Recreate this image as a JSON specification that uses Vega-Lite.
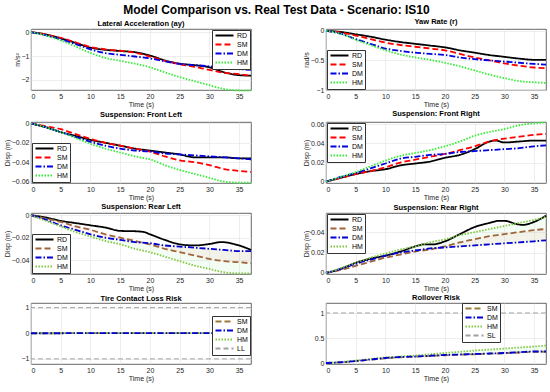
{
  "$schema": "https://vega.github.io/schema/vega-lite/v6.json",
  "padding": {"left": 2, "top": 3, "right": 4, "bottom": 1},
  "background": "white",
  "title": {"text": "Model Comparison vs. Real Test Data - Scenario: IS10", "fontSize": 12, "fontWeight": "bold", "font": "Liberation Sans", "anchor": "middle", "offset": 1, "color": "#000"},
  "columns": 2,
  "spacing": {"row": 1, "column": 46},
  "config": {
    "font": "Liberation Sans",
    "view": {"stroke": "#404040", "strokeWidth": 0.8},
    "axis": {"labelFontSize": 7, "titleFontSize": 7, "titleFontWeight": "normal", "labelColor": "#262626", "titleColor": "#262626", "grid": true, "gridColor": "#e3e3e3", "gridWidth": 0.6, "domain": false, "ticks": false, "labelPadding": 2, "titlePadding": 1, "labelFont": "Liberation Sans", "titleFont": "Liberation Sans"},
    "title": {"fontSize": 7.5, "fontWeight": "bold", "offset": 1, "color": "#000", "font": "Liberation Sans"},
    "legend": {"title": null, "symbolType": "M-1,0L8,0", "symbolSize": 16, "symbolStrokeWidth": 1.8, "labelFontSize": 7, "labelOffset": 16, "padding": 2, "rowPadding": 0, "strokeColor": "#333", "fillColor": "white", "offset": 1, "labelFont": "Liberation Sans", "labelColor": "#000"},
    "line": {"strokeWidth": 1.8}
  },
  "datasets": {
    "d": [
      {"p":1,"s":"RD","t":0,"v":0},{"p":1,"s":"RD","t":2.5,"v":-0.1},{"p":1,"s":"RD","t":5,"v":-0.26},{"p":1,"s":"RD","t":7.5,"v":-0.45},{"p":1,"s":"RD","t":10,"v":-0.65},{"p":1,"s":"RD","t":12.5,"v":-0.74},{"p":1,"s":"RD","t":15,"v":-0.79},{"p":1,"s":"RD","t":17.5,"v":-0.84},{"p":1,"s":"RD","t":20,"v":-0.98},{"p":1,"s":"RD","t":22.5,"v":-1.18},{"p":1,"s":"RD","t":25,"v":-1.32},{"p":1,"s":"RD","t":27.5,"v":-1.38},{"p":1,"s":"RD","t":30,"v":-1.47},{"p":1,"s":"RD","t":32.5,"v":-1.68},{"p":1,"s":"RD","t":35,"v":-1.8},{"p":1,"s":"RD","t":37,"v":-1.82},
      {"p":1,"s":"SM","t":0,"v":0},{"p":1,"s":"SM","t":2.5,"v":-0.1},{"p":1,"s":"SM","t":5,"v":-0.24},{"p":1,"s":"SM","t":7.5,"v":-0.43},{"p":1,"s":"SM","t":10,"v":-0.62},{"p":1,"s":"SM","t":12.5,"v":-0.72},{"p":1,"s":"SM","t":15,"v":-0.78},{"p":1,"s":"SM","t":17.5,"v":-0.86},{"p":1,"s":"SM","t":20,"v":-1.02},{"p":1,"s":"SM","t":22.5,"v":-1.2},{"p":1,"s":"SM","t":25,"v":-1.34},{"p":1,"s":"SM","t":27.5,"v":-1.45},{"p":1,"s":"SM","t":30,"v":-1.58},{"p":1,"s":"SM","t":32.5,"v":-1.7},{"p":1,"s":"SM","t":35,"v":-1.76},{"p":1,"s":"SM","t":37,"v":-1.82},
      {"p":1,"s":"DM","t":0,"v":0},{"p":1,"s":"DM","t":2.5,"v":-0.13},{"p":1,"s":"DM","t":5,"v":-0.3},{"p":1,"s":"DM","t":7.5,"v":-0.5},{"p":1,"s":"DM","t":10,"v":-0.72},{"p":1,"s":"DM","t":12.5,"v":-0.88},{"p":1,"s":"DM","t":15,"v":-0.95},{"p":1,"s":"DM","t":17.5,"v":-1.02},{"p":1,"s":"DM","t":20,"v":-1.1},{"p":1,"s":"DM","t":22.5,"v":-1.22},{"p":1,"s":"DM","t":25,"v":-1.33},{"p":1,"s":"DM","t":27.5,"v":-1.38},{"p":1,"s":"DM","t":30,"v":-1.43},{"p":1,"s":"DM","t":32.5,"v":-1.5},{"p":1,"s":"DM","t":35,"v":-1.55},{"p":1,"s":"DM","t":37,"v":-1.58},
      {"p":1,"s":"HM","t":0,"v":0},{"p":1,"s":"HM","t":2.5,"v":-0.14},{"p":1,"s":"HM","t":5,"v":-0.35},{"p":1,"s":"HM","t":7.5,"v":-0.6},{"p":1,"s":"HM","t":10,"v":-0.87},{"p":1,"s":"HM","t":12.5,"v":-1.08},{"p":1,"s":"HM","t":15,"v":-1.2},{"p":1,"s":"HM","t":17.5,"v":-1.32},{"p":1,"s":"HM","t":20,"v":-1.47},{"p":1,"s":"HM","t":22.5,"v":-1.68},{"p":1,"s":"HM","t":25,"v":-1.88},{"p":1,"s":"HM","t":27.5,"v":-2.05},{"p":1,"s":"HM","t":30,"v":-2.22},{"p":1,"s":"HM","t":32.5,"v":-2.38},{"p":1,"s":"HM","t":35,"v":-2.44},{"p":1,"s":"HM","t":37,"v":-2.45},

      {"p":2,"s":"RD","t":0,"v":0},{"p":2,"s":"RD","t":2.5,"v":-0.02},{"p":2,"s":"RD","t":5,"v":-0.06},{"p":2,"s":"RD","t":7.5,"v":-0.1},{"p":2,"s":"RD","t":10,"v":-0.15},{"p":2,"s":"RD","t":12.5,"v":-0.19},{"p":2,"s":"RD","t":15,"v":-0.22},{"p":2,"s":"RD","t":17.5,"v":-0.25},{"p":2,"s":"RD","t":20,"v":-0.28},{"p":2,"s":"RD","t":22.5,"v":-0.33},{"p":2,"s":"RD","t":25,"v":-0.37},{"p":2,"s":"RD","t":27.5,"v":-0.41},{"p":2,"s":"RD","t":30,"v":-0.44},{"p":2,"s":"RD","t":32.5,"v":-0.47},{"p":2,"s":"RD","t":35,"v":-0.49},{"p":2,"s":"RD","t":37,"v":-0.49},
      {"p":2,"s":"SM","t":0,"v":0},{"p":2,"s":"SM","t":2.5,"v":-0.03},{"p":2,"s":"SM","t":5,"v":-0.08},{"p":2,"s":"SM","t":7.5,"v":-0.14},{"p":2,"s":"SM","t":10,"v":-0.2},{"p":2,"s":"SM","t":12.5,"v":-0.24},{"p":2,"s":"SM","t":15,"v":-0.27},{"p":2,"s":"SM","t":17.5,"v":-0.3},{"p":2,"s":"SM","t":20,"v":-0.33},{"p":2,"s":"SM","t":22.5,"v":-0.39},{"p":2,"s":"SM","t":25,"v":-0.45},{"p":2,"s":"SM","t":27.5,"v":-0.5},{"p":2,"s":"SM","t":30,"v":-0.55},{"p":2,"s":"SM","t":32.5,"v":-0.59},{"p":2,"s":"SM","t":35,"v":-0.62},{"p":2,"s":"SM","t":37,"v":-0.63},
      {"p":2,"s":"DM","t":0,"v":0},{"p":2,"s":"DM","t":2.5,"v":-0.05},{"p":2,"s":"DM","t":5,"v":-0.14},{"p":2,"s":"DM","t":7.5,"v":-0.22},{"p":2,"s":"DM","t":10,"v":-0.3},{"p":2,"s":"DM","t":12.5,"v":-0.34},{"p":2,"s":"DM","t":15,"v":-0.37},{"p":2,"s":"DM","t":17.5,"v":-0.39},{"p":2,"s":"DM","t":20,"v":-0.41},{"p":2,"s":"DM","t":22.5,"v":-0.45},{"p":2,"s":"DM","t":25,"v":-0.48},{"p":2,"s":"DM","t":27.5,"v":-0.5},{"p":2,"s":"DM","t":30,"v":-0.52},{"p":2,"s":"DM","t":32.5,"v":-0.54},{"p":2,"s":"DM","t":35,"v":-0.56},{"p":2,"s":"DM","t":37,"v":-0.57},
      {"p":2,"s":"HM","t":0,"v":0},{"p":2,"s":"HM","t":2.5,"v":-0.05},{"p":2,"s":"HM","t":5,"v":-0.15},{"p":2,"s":"HM","t":7.5,"v":-0.24},{"p":2,"s":"HM","t":10,"v":-0.33},{"p":2,"s":"HM","t":12.5,"v":-0.4},{"p":2,"s":"HM","t":15,"v":-0.45},{"p":2,"s":"HM","t":17.5,"v":-0.49},{"p":2,"s":"HM","t":20,"v":-0.54},{"p":2,"s":"HM","t":22.5,"v":-0.6},{"p":2,"s":"HM","t":25,"v":-0.67},{"p":2,"s":"HM","t":27.5,"v":-0.74},{"p":2,"s":"HM","t":30,"v":-0.8},{"p":2,"s":"HM","t":32.5,"v":-0.85},{"p":2,"s":"HM","t":35,"v":-0.87},{"p":2,"s":"HM","t":37,"v":-0.88},

      {"p":3,"s":"RD","t":0,"v":0},{"p":3,"s":"RD","t":2.5,"v":-0.004},{"p":3,"s":"RD","t":5,"v":-0.009},{"p":3,"s":"RD","t":7.5,"v":-0.013},{"p":3,"s":"RD","t":10,"v":-0.017},{"p":3,"s":"RD","t":12.5,"v":-0.02},{"p":3,"s":"RD","t":15,"v":-0.023},{"p":3,"s":"RD","t":17.5,"v":-0.026},{"p":3,"s":"RD","t":20,"v":-0.028},{"p":3,"s":"RD","t":22.5,"v":-0.03},{"p":3,"s":"RD","t":25,"v":-0.032},{"p":3,"s":"RD","t":27.5,"v":-0.035},{"p":3,"s":"RD","t":30,"v":-0.035},{"p":3,"s":"RD","t":32.5,"v":-0.035},{"p":3,"s":"RD","t":35,"v":-0.036},{"p":3,"s":"RD","t":37,"v":-0.036},
      {"p":3,"s":"SM","t":0,"v":0},{"p":3,"s":"SM","t":2.5,"v":-0.003},{"p":3,"s":"SM","t":5,"v":-0.006},{"p":3,"s":"SM","t":7.5,"v":-0.011},{"p":3,"s":"SM","t":10,"v":-0.016},{"p":3,"s":"SM","t":12.5,"v":-0.02},{"p":3,"s":"SM","t":15,"v":-0.023},{"p":3,"s":"SM","t":17.5,"v":-0.026},{"p":3,"s":"SM","t":20,"v":-0.029},{"p":3,"s":"SM","t":22.5,"v":-0.034},{"p":3,"s":"SM","t":25,"v":-0.038},{"p":3,"s":"SM","t":27.5,"v":-0.04},{"p":3,"s":"SM","t":30,"v":-0.043},{"p":3,"s":"SM","t":32.5,"v":-0.047},{"p":3,"s":"SM","t":35,"v":-0.049},{"p":3,"s":"SM","t":37,"v":-0.05},
      {"p":3,"s":"DM","t":0,"v":0},{"p":3,"s":"DM","t":2.5,"v":-0.004},{"p":3,"s":"DM","t":5,"v":-0.009},{"p":3,"s":"DM","t":7.5,"v":-0.014},{"p":3,"s":"DM","t":10,"v":-0.019},{"p":3,"s":"DM","t":12.5,"v":-0.023},{"p":3,"s":"DM","t":15,"v":-0.026},{"p":3,"s":"DM","t":17.5,"v":-0.028},{"p":3,"s":"DM","t":20,"v":-0.029},{"p":3,"s":"DM","t":22.5,"v":-0.031},{"p":3,"s":"DM","t":25,"v":-0.032},{"p":3,"s":"DM","t":27.5,"v":-0.033},{"p":3,"s":"DM","t":30,"v":-0.034},{"p":3,"s":"DM","t":32.5,"v":-0.035},{"p":3,"s":"DM","t":35,"v":-0.036},{"p":3,"s":"DM","t":37,"v":-0.037},
      {"p":3,"s":"HM","t":0,"v":0},{"p":3,"s":"HM","t":2.5,"v":-0.004},{"p":3,"s":"HM","t":5,"v":-0.009},{"p":3,"s":"HM","t":7.5,"v":-0.015},{"p":3,"s":"HM","t":10,"v":-0.021},{"p":3,"s":"HM","t":12.5,"v":-0.026},{"p":3,"s":"HM","t":15,"v":-0.03},{"p":3,"s":"HM","t":17.5,"v":-0.034},{"p":3,"s":"HM","t":20,"v":-0.037},{"p":3,"s":"HM","t":22.5,"v":-0.043},{"p":3,"s":"HM","t":25,"v":-0.048},{"p":3,"s":"HM","t":27.5,"v":-0.052},{"p":3,"s":"HM","t":30,"v":-0.056},{"p":3,"s":"HM","t":32.5,"v":-0.06},{"p":3,"s":"HM","t":35,"v":-0.061},{"p":3,"s":"HM","t":37,"v":-0.061},

      {"p":4,"s":"RD","t":0,"v":0},{"p":4,"s":"RD","t":2.5,"v":0.004},{"p":4,"s":"RD","t":5,"v":0.008},{"p":4,"s":"RD","t":7.5,"v":0.011},{"p":4,"s":"RD","t":10,"v":0.013},{"p":4,"s":"RD","t":12.5,"v":0.017},{"p":4,"s":"RD","t":15,"v":0.019},{"p":4,"s":"RD","t":17.5,"v":0.021},{"p":4,"s":"RD","t":20,"v":0.025},{"p":4,"s":"RD","t":22.5,"v":0.028},{"p":4,"s":"RD","t":25,"v":0.034},{"p":4,"s":"RD","t":27.5,"v":0.042},{"p":4,"s":"RD","t":28.5,"v":0.043},{"p":4,"s":"RD","t":30,"v":0.041},{"p":4,"s":"RD","t":32.5,"v":0.042},{"p":4,"s":"RD","t":35,"v":0.043},{"p":4,"s":"RD","t":37,"v":0.043},
      {"p":4,"s":"SM","t":0,"v":0},{"p":4,"s":"SM","t":2.5,"v":0.004},{"p":4,"s":"SM","t":5,"v":0.008},{"p":4,"s":"SM","t":7.5,"v":0.011},{"p":4,"s":"SM","t":10,"v":0.015},{"p":4,"s":"SM","t":12.5,"v":0.02},{"p":4,"s":"SM","t":15,"v":0.023},{"p":4,"s":"SM","t":17.5,"v":0.026},{"p":4,"s":"SM","t":20,"v":0.029},{"p":4,"s":"SM","t":22.5,"v":0.033},{"p":4,"s":"SM","t":25,"v":0.037},{"p":4,"s":"SM","t":27.5,"v":0.042},{"p":4,"s":"SM","t":30,"v":0.045},{"p":4,"s":"SM","t":32.5,"v":0.047},{"p":4,"s":"SM","t":35,"v":0.049},{"p":4,"s":"SM","t":37,"v":0.05},
      {"p":4,"s":"DM","t":0,"v":0},{"p":4,"s":"DM","t":2.5,"v":0.005},{"p":4,"s":"DM","t":5,"v":0.009},{"p":4,"s":"DM","t":7.5,"v":0.014},{"p":4,"s":"DM","t":10,"v":0.019},{"p":4,"s":"DM","t":12.5,"v":0.024},{"p":4,"s":"DM","t":15,"v":0.026},{"p":4,"s":"DM","t":17.5,"v":0.028},{"p":4,"s":"DM","t":20,"v":0.029},{"p":4,"s":"DM","t":22.5,"v":0.031},{"p":4,"s":"DM","t":25,"v":0.032},{"p":4,"s":"DM","t":27.5,"v":0.033},{"p":4,"s":"DM","t":30,"v":0.034},{"p":4,"s":"DM","t":32.5,"v":0.035},{"p":4,"s":"DM","t":35,"v":0.037},{"p":4,"s":"DM","t":37,"v":0.038},
      {"p":4,"s":"HM","t":0,"v":0},{"p":4,"s":"HM","t":2.5,"v":0.005},{"p":4,"s":"HM","t":5,"v":0.01},{"p":4,"s":"HM","t":7.5,"v":0.016},{"p":4,"s":"HM","t":10,"v":0.022},{"p":4,"s":"HM","t":12.5,"v":0.027},{"p":4,"s":"HM","t":15,"v":0.03},{"p":4,"s":"HM","t":17.5,"v":0.033},{"p":4,"s":"HM","t":20,"v":0.037},{"p":4,"s":"HM","t":22.5,"v":0.042},{"p":4,"s":"HM","t":25,"v":0.048},{"p":4,"s":"HM","t":27.5,"v":0.052},{"p":4,"s":"HM","t":30,"v":0.055},{"p":4,"s":"HM","t":32.5,"v":0.059},{"p":4,"s":"HM","t":35,"v":0.061},{"p":4,"s":"HM","t":37,"v":0.062},

      {"p":5,"s":"RD","t":0,"v":0},{"p":5,"s":"RD","t":2.5,"v":-0.002},{"p":5,"s":"RD","t":5,"v":-0.005},{"p":5,"s":"RD","t":7.5,"v":-0.007},{"p":5,"s":"RD","t":10,"v":-0.009},{"p":5,"s":"RD","t":12.5,"v":-0.011},{"p":5,"s":"RD","t":15,"v":-0.014},{"p":5,"s":"RD","t":17.5,"v":-0.0143},{"p":5,"s":"RD","t":19,"v":-0.015},{"p":5,"s":"RD","t":20,"v":-0.017},{"p":5,"s":"RD","t":22.5,"v":-0.022},{"p":5,"s":"RD","t":25,"v":-0.026},{"p":5,"s":"RD","t":27.5,"v":-0.027},{"p":5,"s":"RD","t":30,"v":-0.0257},{"p":5,"s":"RD","t":32,"v":-0.024},{"p":5,"s":"RD","t":35,"v":-0.027},{"p":5,"s":"RD","t":37,"v":-0.031},
      {"p":5,"s":"SM","t":0,"v":0},{"p":5,"s":"SM","t":2.5,"v":-0.003},{"p":5,"s":"SM","t":5,"v":-0.006},{"p":5,"s":"SM","t":7.5,"v":-0.01},{"p":5,"s":"SM","t":10,"v":-0.013},{"p":5,"s":"SM","t":12.5,"v":-0.017},{"p":5,"s":"SM","t":15,"v":-0.02},{"p":5,"s":"SM","t":17.5,"v":-0.023},{"p":5,"s":"SM","t":20,"v":-0.026},{"p":5,"s":"SM","t":22.5,"v":-0.03},{"p":5,"s":"SM","t":25,"v":-0.033},{"p":5,"s":"SM","t":27.5,"v":-0.036},{"p":5,"s":"SM","t":30,"v":-0.039},{"p":5,"s":"SM","t":32.5,"v":-0.041},{"p":5,"s":"SM","t":35,"v":-0.042},{"p":5,"s":"SM","t":37,"v":-0.043},
      {"p":5,"s":"DM","t":0,"v":0},{"p":5,"s":"DM","t":2.5,"v":-0.004},{"p":5,"s":"DM","t":5,"v":-0.009},{"p":5,"s":"DM","t":7.5,"v":-0.013},{"p":5,"s":"DM","t":10,"v":-0.017},{"p":5,"s":"DM","t":12.5,"v":-0.02},{"p":5,"s":"DM","t":15,"v":-0.022},{"p":5,"s":"DM","t":17.5,"v":-0.024},{"p":5,"s":"DM","t":20,"v":-0.025},{"p":5,"s":"DM","t":22.5,"v":-0.027},{"p":5,"s":"DM","t":25,"v":-0.028},{"p":5,"s":"DM","t":27.5,"v":-0.029},{"p":5,"s":"DM","t":30,"v":-0.03},{"p":5,"s":"DM","t":32.5,"v":-0.031},{"p":5,"s":"DM","t":35,"v":-0.032},{"p":5,"s":"DM","t":37,"v":-0.032},
      {"p":5,"s":"HM","t":0,"v":0},{"p":5,"s":"HM","t":2.5,"v":-0.005},{"p":5,"s":"HM","t":5,"v":-0.01},{"p":5,"s":"HM","t":7.5,"v":-0.015},{"p":5,"s":"HM","t":10,"v":-0.019},{"p":5,"s":"HM","t":12.5,"v":-0.023},{"p":5,"s":"HM","t":15,"v":-0.026},{"p":5,"s":"HM","t":17.5,"v":-0.03},{"p":5,"s":"HM","t":20,"v":-0.033},{"p":5,"s":"HM","t":22.5,"v":-0.037},{"p":5,"s":"HM","t":25,"v":-0.041},{"p":5,"s":"HM","t":27.5,"v":-0.045},{"p":5,"s":"HM","t":30,"v":-0.048},{"p":5,"s":"HM","t":32.5,"v":-0.051},{"p":5,"s":"HM","t":35,"v":-0.052},{"p":5,"s":"HM","t":37,"v":-0.052},

      {"p":6,"s":"RD","t":0,"v":0},{"p":6,"s":"RD","t":2.5,"v":0.004},{"p":6,"s":"RD","t":5,"v":0.01},{"p":6,"s":"RD","t":7.5,"v":0.014},{"p":6,"s":"RD","t":10,"v":0.017},{"p":6,"s":"RD","t":12.5,"v":0.021},{"p":6,"s":"RD","t":15,"v":0.026},{"p":6,"s":"RD","t":16.5,"v":0.028},{"p":6,"s":"RD","t":18,"v":0.028},{"p":6,"s":"RD","t":20,"v":0.031},{"p":6,"s":"RD","t":22.5,"v":0.038},{"p":6,"s":"RD","t":25,"v":0.045},{"p":6,"s":"RD","t":27.5,"v":0.049},{"p":6,"s":"RD","t":29,"v":0.051},{"p":6,"s":"RD","t":30,"v":0.051},{"p":6,"s":"RD","t":32,"v":0.048},{"p":6,"s":"RD","t":33,"v":0.047},{"p":6,"s":"RD","t":35,"v":0.05},{"p":6,"s":"RD","t":37,"v":0.056},
      {"p":6,"s":"SM","t":0,"v":0},{"p":6,"s":"SM","t":2.5,"v":0.003},{"p":6,"s":"SM","t":5,"v":0.007},{"p":6,"s":"SM","t":7.5,"v":0.011},{"p":6,"s":"SM","t":10,"v":0.015},{"p":6,"s":"SM","t":12.5,"v":0.018},{"p":6,"s":"SM","t":15,"v":0.021},{"p":6,"s":"SM","t":17.5,"v":0.023},{"p":6,"s":"SM","t":20,"v":0.026},{"p":6,"s":"SM","t":22.5,"v":0.03},{"p":6,"s":"SM","t":25,"v":0.033},{"p":6,"s":"SM","t":27.5,"v":0.036},{"p":6,"s":"SM","t":30,"v":0.038},{"p":6,"s":"SM","t":32.5,"v":0.04},{"p":6,"s":"SM","t":35,"v":0.042},{"p":6,"s":"SM","t":37,"v":0.043},
      {"p":6,"s":"DM","t":0,"v":0},{"p":6,"s":"DM","t":2.5,"v":0.004},{"p":6,"s":"DM","t":5,"v":0.009},{"p":6,"s":"DM","t":7.5,"v":0.013},{"p":6,"s":"DM","t":10,"v":0.017},{"p":6,"s":"DM","t":12.5,"v":0.02},{"p":6,"s":"DM","t":15,"v":0.022},{"p":6,"s":"DM","t":17.5,"v":0.024},{"p":6,"s":"DM","t":20,"v":0.025},{"p":6,"s":"DM","t":22.5,"v":0.026},{"p":6,"s":"DM","t":25,"v":0.027},{"p":6,"s":"DM","t":27.5,"v":0.028},{"p":6,"s":"DM","t":30,"v":0.029},{"p":6,"s":"DM","t":32.5,"v":0.03},{"p":6,"s":"DM","t":35,"v":0.031},{"p":6,"s":"DM","t":37,"v":0.032},
      {"p":6,"s":"HM","t":0,"v":0},{"p":6,"s":"HM","t":2.5,"v":0.005},{"p":6,"s":"HM","t":5,"v":0.01},{"p":6,"s":"HM","t":7.5,"v":0.015},{"p":6,"s":"HM","t":10,"v":0.019},{"p":6,"s":"HM","t":12.5,"v":0.023},{"p":6,"s":"HM","t":15,"v":0.026},{"p":6,"s":"HM","t":17.5,"v":0.03},{"p":6,"s":"HM","t":20,"v":0.033},{"p":6,"s":"HM","t":22.5,"v":0.037},{"p":6,"s":"HM","t":25,"v":0.04},{"p":6,"s":"HM","t":27.5,"v":0.043},{"p":6,"s":"HM","t":30,"v":0.046},{"p":6,"s":"HM","t":32.5,"v":0.049},{"p":6,"s":"HM","t":35,"v":0.052},{"p":6,"s":"HM","t":37,"v":0.055},

      {"p":7,"s":"SM","t":0,"v":0},{"p":7,"s":"SM","t":37,"v":0.005},
      {"p":7,"s":"HM","t":0,"v":0},{"p":7,"s":"HM","t":37,"v":0.005},
      {"p":7,"s":"DM","t":0,"v":0},{"p":7,"s":"DM","t":37,"v":0.005},
      {"p":7,"s":"LL","t":0,"v":1},{"p":7,"s":"LL","t":0,"v":-1},

      {"p":8,"s":"SM","t":0,"v":0},{"p":8,"s":"SM","t":2.5,"v":0.013},{"p":8,"s":"SM","t":5,"v":0.037},{"p":8,"s":"SM","t":7.5,"v":0.066},{"p":8,"s":"SM","t":10,"v":0.095},{"p":8,"s":"SM","t":12.5,"v":0.115},{"p":8,"s":"SM","t":15,"v":0.126},{"p":8,"s":"SM","t":17.5,"v":0.14},{"p":8,"s":"SM","t":20,"v":0.155},{"p":8,"s":"SM","t":22.5,"v":0.165},{"p":8,"s":"SM","t":25,"v":0.175},{"p":8,"s":"SM","t":27.5,"v":0.185},{"p":8,"s":"SM","t":30,"v":0.195},{"p":8,"s":"SM","t":32.5,"v":0.21},{"p":8,"s":"SM","t":35,"v":0.225},{"p":8,"s":"SM","t":37,"v":0.225},
      {"p":8,"s":"HM","t":0,"v":0},{"p":8,"s":"HM","t":2.5,"v":0.02},{"p":8,"s":"HM","t":5,"v":0.05},{"p":8,"s":"HM","t":7.5,"v":0.08},{"p":8,"s":"HM","t":10,"v":0.11},{"p":8,"s":"HM","t":12.5,"v":0.13},{"p":8,"s":"HM","t":15,"v":0.15},{"p":8,"s":"HM","t":17.5,"v":0.175},{"p":8,"s":"HM","t":20,"v":0.2},{"p":8,"s":"HM","t":22.5,"v":0.225},{"p":8,"s":"HM","t":25,"v":0.25},{"p":8,"s":"HM","t":27.5,"v":0.27},{"p":8,"s":"HM","t":30,"v":0.29},{"p":8,"s":"HM","t":32.5,"v":0.31},{"p":8,"s":"HM","t":35,"v":0.33},{"p":8,"s":"HM","t":37,"v":0.35},
      {"p":8,"s":"DM","t":0,"v":0},{"p":8,"s":"DM","t":2.5,"v":0.015},{"p":8,"s":"DM","t":5,"v":0.04},{"p":8,"s":"DM","t":7.5,"v":0.07},{"p":8,"s":"DM","t":10,"v":0.1},{"p":8,"s":"DM","t":12.5,"v":0.12},{"p":8,"s":"DM","t":15,"v":0.13},{"p":8,"s":"DM","t":17.5,"v":0.145},{"p":8,"s":"DM","t":20,"v":0.16},{"p":8,"s":"DM","t":22.5,"v":0.17},{"p":8,"s":"DM","t":25,"v":0.18},{"p":8,"s":"DM","t":27.5,"v":0.19},{"p":8,"s":"DM","t":30,"v":0.2},{"p":8,"s":"DM","t":32.5,"v":0.215},{"p":8,"s":"DM","t":35,"v":0.23},{"p":8,"s":"DM","t":37,"v":0.23},
      {"p":8,"s":"SL","t":0,"v":1}
    ]
  },
  "concat": [
    {
      "width": 220, "height": 61,
      "title": "Lateral Acceleration (ay)",
      "data": {"name": "d"},
      "transform": [{"filter": "datum.p == 1"}],
      "mark": {"type": "line", "interpolate": "monotone"},
      "encoding": {
        "x": {"field": "t", "type": "quantitative", "scale": {"domain": [0, 37], "nice": false}, "axis": {"values": [0,5,10,15,20,25,30,35], "title": "Time (s)"}},
        "y": {"field": "v", "type": "quantitative", "scale": {"domain": [-2.42, 0.13], "nice": false, "zero": false}, "axis": {"values": [-2,-1,0], "format": "~g", "title": "m/s²"}},
        "color": {"field": "s", "type": "nominal", "scale": {"domain": ["RD","SM","DM","HM"], "range": ["#000000","#ff0000","#0000e0","#33ee33"]}, "legend": {"orient": "top-right"}},
        "strokeDash": {"field": "s", "type": "nominal", "scale": {"domain": ["RD","SM","DM","HM"], "range": [[1,0],[6,3],[6,2,1.5,2],[1.5,1.5]]}, "legend": {"orient": "top-right"}}
      }
    },
    {
      "width": 220, "height": 61,
      "title": "Yaw Rate (r)",
      "data": {"name": "d"},
      "transform": [{"filter": "datum.p == 2"}],
      "mark": {"type": "line", "interpolate": "monotone"},
      "encoding": {
        "x": {"field": "t", "type": "quantitative", "scale": {"domain": [0, 37], "nice": false}, "axis": {"values": [0,5,10,15,20,25,30,35], "title": "Time (s)"}},
        "y": {"field": "v", "type": "quantitative", "scale": {"domain": [-1, 0.03], "nice": false, "zero": false}, "axis": {"values": [-1,-0.5,0], "format": "~g", "title": "rad/s"}},
        "color": {"field": "s", "type": "nominal", "scale": {"domain": ["RD","SM","DM","HM"], "range": ["#000000","#ff0000","#0000e0","#33ee33"]}, "legend": {"orient": "bottom-left"}},
        "strokeDash": {"field": "s", "type": "nominal", "scale": {"domain": ["RD","SM","DM","HM"], "range": [[1,0],[6,3],[6,2,1.5,2],[1.5,1.5]]}, "legend": {"orient": "bottom-left"}}
      }
    },
    {
      "width": 220, "height": 61,
      "title": "Suspension: Front Left",
      "data": {"name": "d"},
      "transform": [{"filter": "datum.p == 3"}],
      "mark": {"type": "line", "interpolate": "monotone"},
      "encoding": {
        "x": {"field": "t", "type": "quantitative", "scale": {"domain": [0, 37], "nice": false}, "axis": {"values": [0,5,10,15,20,25,30,35], "title": "Time (s)"}},
        "y": {"field": "v", "type": "quantitative", "scale": {"domain": [-0.0614, 0.0014], "nice": false, "zero": false}, "axis": {"values": [-0.06,-0.04,-0.02,0], "format": "~g", "title": "Disp (m)"}},
        "color": {"field": "s", "type": "nominal", "scale": {"domain": ["RD","SM","DM","HM"], "range": ["#000000","#ff0000","#0000e0","#33ee33"]}, "legend": {"orient": "bottom-left"}},
        "strokeDash": {"field": "s", "type": "nominal", "scale": {"domain": ["RD","SM","DM","HM"], "range": [[1,0],[6,3],[6,2,1.5,2],[1.5,1.5]]}, "legend": {"orient": "bottom-left"}}
      }
    },
    {
      "width": 220, "height": 61,
      "title": "Suspension: Front Right",
      "data": {"name": "d"},
      "transform": [{"filter": "datum.p == 4"}],
      "mark": {"type": "line", "interpolate": "monotone"},
      "encoding": {
        "x": {"field": "t", "type": "quantitative", "scale": {"domain": [0, 37], "nice": false}, "axis": {"values": [0,5,10,15,20,25,30,35], "title": "Time (s)"}},
        "y": {"field": "v", "type": "quantitative", "scale": {"domain": [-0.0014, 0.0624], "nice": false, "zero": false}, "axis": {"values": [0,0.02,0.04,0.06], "format": "~g", "title": "Disp (m)"}},
        "color": {"field": "s", "type": "nominal", "scale": {"domain": ["RD","SM","DM","HM"], "range": ["#000000","#ff0000","#0000e0","#33ee33"]}, "legend": {"orient": "top-left"}},
        "strokeDash": {"field": "s", "type": "nominal", "scale": {"domain": ["RD","SM","DM","HM"], "range": [[1,0],[6,3],[6,2,1.5,2],[1.5,1.5]]}, "legend": {"orient": "top-left"}}
      }
    },
    {
      "width": 220, "height": 61,
      "title": "Suspension: Rear Left",
      "data": {"name": "d"},
      "transform": [{"filter": "datum.p == 5"}],
      "encoding": {
        "x": {"field": "t", "type": "quantitative", "scale": {"domain": [0, 37], "nice": false}, "axis": {"values": [0,5,10,15,20,25,30,35], "title": "Time (s)"}}
      },
      "layer": [
        {
          "transform": [{"filter": "datum.s != 'RD'"}, {"pivot": "s", "value": "v", "groupby": ["t"]}],
          "mark": {"type": "area", "color": "#ff9999", "opacity": 0.12, "interpolate": "monotone"},
          "encoding": {"y": {"field": "DM", "type": "quantitative", "scale": {"domain": [-0.0525, 0.002], "nice": false, "zero": false}, "axis": {"values": [-0.04,-0.02,0], "format": "~g", "title": "Disp (m)"}}, "y2": {"field": "SM"}}
        },
        {
          "transform": [{"filter": "datum.s != 'RD'"}, {"pivot": "s", "value": "v", "groupby": ["t"]}],
          "mark": {"type": "area", "color": "#99ee99", "opacity": 0.12, "interpolate": "monotone"},
          "encoding": {"y": {"field": "DM", "type": "quantitative", "scale": {"domain": [-0.0525, 0.002], "nice": false, "zero": false}, "axis": {"values": [-0.04,-0.02,0], "format": "~g", "title": "Disp (m)"}}, "y2": {"field": "HM"}}
        },
        {
          "mark": {"type": "line", "interpolate": "monotone"},
          "encoding": {
            "y": {"field": "v", "type": "quantitative", "scale": {"domain": [-0.0525, 0.002], "nice": false, "zero": false}, "axis": {"values": [-0.04,-0.02,0], "format": "~g", "title": "Disp (m)"}},
            "color": {"field": "s", "type": "nominal", "scale": {"domain": ["RD","SM","DM","HM"], "range": ["#000000","#a0643c","#0000d0","#80c840"]}, "legend": {"orient": "bottom-left"}},
            "strokeDash": {"field": "s", "type": "nominal", "scale": {"domain": ["RD","SM","DM","HM"], "range": [[1,0],[6,3],[6,2,1.5,2],[1.5,1.5]]}, "legend": {"orient": "bottom-left"}}
          }
        }
      ]
    },
    {
      "width": 220, "height": 61,
      "title": "Suspension: Rear Right",
      "data": {"name": "d"},
      "transform": [{"filter": "datum.p == 6"}],
      "encoding": {
        "x": {"field": "t", "type": "quantitative", "scale": {"domain": [0, 37], "nice": false}, "axis": {"values": [0,5,10,15,20,25,30,35], "title": "Time (s)"}}
      },
      "layer": [
        {
          "transform": [{"filter": "datum.s != 'RD'"}, {"pivot": "s", "value": "v", "groupby": ["t"]}],
          "mark": {"type": "area", "color": "#ff9999", "opacity": 0.12, "interpolate": "monotone"},
          "encoding": {"y": {"field": "DM", "type": "quantitative", "scale": {"domain": [-0.001, 0.0587], "nice": false, "zero": false}, "axis": {"values": [0,0.02,0.04], "format": "~g", "title": "Disp (m)"}}, "y2": {"field": "SM"}}
        },
        {
          "transform": [{"filter": "datum.s != 'RD'"}, {"pivot": "s", "value": "v", "groupby": ["t"]}],
          "mark": {"type": "area", "color": "#99ee99", "opacity": 0.12, "interpolate": "monotone"},
          "encoding": {"y": {"field": "DM", "type": "quantitative", "scale": {"domain": [-0.001, 0.0587], "nice": false, "zero": false}, "axis": {"values": [0,0.02,0.04], "format": "~g", "title": "Disp (m)"}}, "y2": {"field": "HM"}}
        },
        {
          "mark": {"type": "line", "interpolate": "monotone"},
          "encoding": {
            "y": {"field": "v", "type": "quantitative", "scale": {"domain": [-0.001, 0.0587], "nice": false, "zero": false}, "axis": {"values": [0,0.02,0.04], "format": "~g", "title": "Disp (m)"}},
            "color": {"field": "s", "type": "nominal", "scale": {"domain": ["RD","SM","DM","HM"], "range": ["#000000","#a0643c","#0000d0","#80c840"]}, "legend": {"orient": "top-left"}},
            "strokeDash": {"field": "s", "type": "nominal", "scale": {"domain": ["RD","SM","DM","HM"], "range": [[1,0],[6,3],[6,2,1.5,2],[1.5,1.5]]}, "legend": {"orient": "top-left"}}
          }
        }
      ]
    },
    {
      "width": 220, "height": 61,
      "title": "Tire Contact Loss Risk",
      "data": {"name": "d"},
      "transform": [{"filter": "datum.p == 7"}],
      "encoding": {
        "x": {"field": "t", "type": "quantitative", "scale": {"domain": [0, 37], "nice": false}, "axis": {"values": [0,5,10,15,20,25,30,35], "title": "Time (s)"}},
        "y": {"field": "v", "type": "quantitative", "scale": {"domain": [-1.2, 1.18], "nice": false, "zero": false}, "axis": {"values": [-1,0,1], "format": "~g", "title": null}},
        "color": {"field": "s", "type": "nominal", "scale": {"domain": ["SM","DM","HM","LL"], "range": ["#9a7b3a","#0000d0","#80c840","#a0a0a0"]}, "legend": {"orient": "none", "legendX": 181, "legendY": 13}},
        "strokeDash": {"field": "s", "type": "nominal", "scale": {"domain": ["SM","DM","HM","LL"], "range": [[6,3],[6,2,1.5,2],[1.5,1.5],[5,3]]}, "legend": {"orient": "none", "legendX": 181, "legendY": 13}}
      },
      "layer": [
        {"transform": [{"filter": "datum.s == 'LL'"}], "mark": {"type": "rule", "strokeWidth": 1}, "encoding": {"x": null}},
        {"transform": [{"filter": "datum.s != 'LL'"}], "mark": {"type": "line"}}
      ]
    },
    {
      "width": 220, "height": 61,
      "title": "Rollover Risk",
      "data": {"name": "d"},
      "transform": [{"filter": "datum.p == 8"}],
      "encoding": {
        "x": {"field": "t", "type": "quantitative", "scale": {"domain": [0, 37], "nice": false}, "axis": {"values": [0,5,10,15,20,25,30,35], "title": "Time (s)"}},
        "y": {"field": "v", "type": "quantitative", "scale": {"domain": [-0.02, 1.2], "nice": false, "zero": false}, "axis": {"values": [0,0.5,1], "format": "~g", "title": null}},
        "color": {"field": "s", "type": "nominal", "scale": {"domain": ["SM","DM","HM","SL"], "range": ["#9a7b3a","#0000d0","#80c840","#a0a0a0"]}, "legend": {"orient": "none", "legendX": 136, "legendY": 0}},
        "strokeDash": {"field": "s", "type": "nominal", "scale": {"domain": ["SM","DM","HM","SL"], "range": [[6,3],[6,2,1.5,2],[1.5,1.5],[5,3]]}, "legend": {"orient": "none", "legendX": 136, "legendY": 0}}
      },
      "layer": [
        {
          "transform": [{"filter": "datum.s != 'SL'"}, {"pivot": "s", "value": "v", "groupby": ["t"]}],
          "mark": {"type": "area", "color": "#99ee99", "opacity": 0.15, "interpolate": "monotone"},
          "encoding": {"y": {"field": "DM", "type": "quantitative", "scale": {"domain": [-0.02, 1.2], "nice": false, "zero": false}, "axis": {"values": [0,0.5,1], "format": "~g", "title": null}}, "y2": {"field": "HM"}, "color": null, "strokeDash": null}
        },
        {"transform": [{"filter": "datum.s == 'SL'"}], "mark": {"type": "rule", "strokeWidth": 1}, "encoding": {"x": null}},
        {"transform": [{"filter": "datum.s != 'SL'"}], "mark": {"type": "line", "interpolate": "monotone"}}
      ]
    }
  ],
  "resolve": {
    "scale": {"color": "independent", "strokeDash": "independent", "x": "independent", "y": "independent"},
    "legend": {"color": "independent", "strokeDash": "independent"}
  }
}
